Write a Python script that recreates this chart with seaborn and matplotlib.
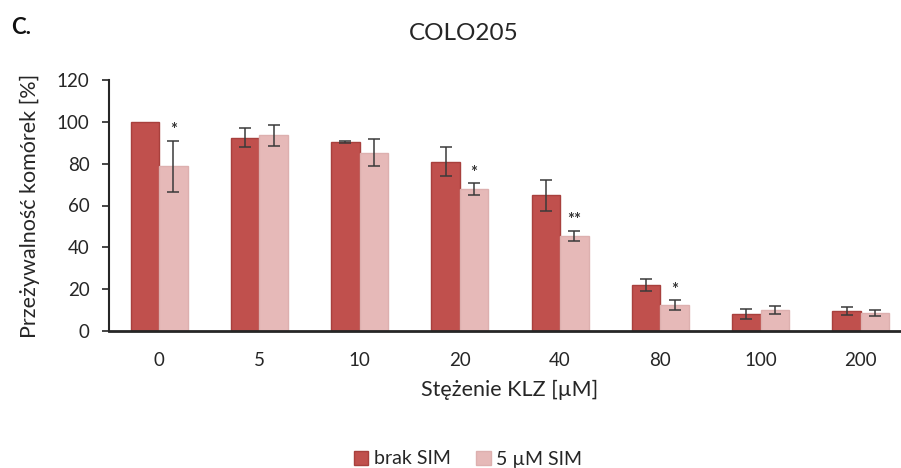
import numpy as np
import pandas as pd
import matplotlib
matplotlib.use("Agg")
import matplotlib.pyplot as plt
import seaborn as sns
from matplotlib.patches import Patch

categories = ["0", "5", "10", "20", "40", "80", "100", "200"]
series_names = ["brak SIM", "5 µM SIM"]
brak_sim = [100.0, 92.5, 90.2, 81.0, 65.0, 22.0, 8.2, 9.6]
brak_sim_err = [0.0, 4.6, 0.4, 7.1, 7.4, 3.0, 2.3, 2.0]
sim5 = [78.8, 93.5, 85.3, 67.8, 45.6, 12.4, 10.1, 8.5]
sim5_err = [12.2, 5.2, 6.5, 2.8, 2.4, 2.4, 1.9, 1.4]
sim5_sig = ["*", "", "", "*", "**", "*", "", ""]
yticks = [0, 20, 40, 60, 80, 100, 120]

colors = ["#c0504d", "#e6b9b8"]
edges = ["#a8403d", "#ddb0af"]

sns.set_theme(style="white")
plt.rcParams["font.family"] = ["Lato", "DejaVu Sans"]

df = pd.DataFrame({
    "conc": categories * 2,
    "val": brak_sim + sim5,
    "grp": [series_names[0]] * len(categories) + [series_names[1]] * len(categories),
})

fig = plt.figure(figsize=(9.01, 4.68), dpi=100)
W, H = 901, 468
ax = fig.add_axes([109 / W, 1 - 331 / H, 802 / W, (331 - 80) / H])

sns.barplot(data=df, x="conc", y="val", hue="grp", order=categories,
            hue_order=series_names, palette=colors, width=0.57, gap=0,
            errorbar=None, ax=ax, legend=False, saturation=1)

errs = [brak_sim_err, sim5_err]
vals = [brak_sim, sim5]
bar_conts = list(ax.containers)
for gi, cont in enumerate(bar_conts):
    for bi, bar in enumerate(cont):
        bar.set_edgecolor(edges[gi])
        bar.set_linewidth(1.0)
        cx = bar.get_x() + bar.get_width() / 2
        if errs[gi][bi] > 0:
            ax.errorbar(cx, vals[gi][bi], yerr=errs[gi][bi], fmt="none",
                        ecolor="#3a3a3a", elinewidth=1.1, capsize=4.5,
                        capthick=1.1, zorder=5)
        if gi == 1 and sim5_sig[bi]:
            ax.text(cx, vals[gi][bi] + errs[gi][bi] + 1.2, sim5_sig[bi],
                    ha="center", va="bottom", fontsize=12, color="#333333",
                    fontweight="bold")

ax.set_xlim(-0.5, len(categories) - 0.5)
ax.set_ylim(0, 120)
ax.set_yticks(yticks)
ax.set_yticklabels([str(t) for t in yticks], fontsize=13.5, color="#262626")
ax.tick_params(axis="y", which="major", direction="out", length=5, width=1.2,
               color="#262626", left=True, pad=9)
ax.tick_params(axis="x", length=0, labelsize=13.5, labelcolor="#262626", pad=15)
for s in ["top", "right"]:
    ax.spines[s].set_visible(False)
ax.spines["left"].set_color("#262626")
ax.spines["left"].set_linewidth(1.5)
ax.spines["bottom"].set_color("#262626")
ax.spines["bottom"].set_linewidth(2.0)

ax.set_xlabel("Stężenie KLZ [µM]", fontsize=15.5, color="#262626", labelpad=8)
ax.set_ylabel("Przeżywalność komórek [%]", fontsize=15.5, color="#262626", labelpad=12)

fig.text(464 / W, 1 - 34 / H, "COLO205", ha="center", va="center",
         fontsize=17.5, color="#262626")
fig.text(11 / W, 1 - 27 / H, "C.", ha="left", va="center", fontsize=16,
         fontweight="bold", color="#111111")

handles = [Patch(facecolor=colors[i], edgecolor=edges[i]) for i in range(2)]
fig.legend(handles, series_names, loc="center", bbox_to_anchor=(468 / W, 1 - 459 / H),
           ncol=2, frameon=False, fontsize=14, handlelength=0.75, handleheight=0.75,
           handletextpad=0.3, columnspacing=1.3, labelcolor="#262626",
           borderpad=0)

fig.savefig("out.png", dpi=100)
